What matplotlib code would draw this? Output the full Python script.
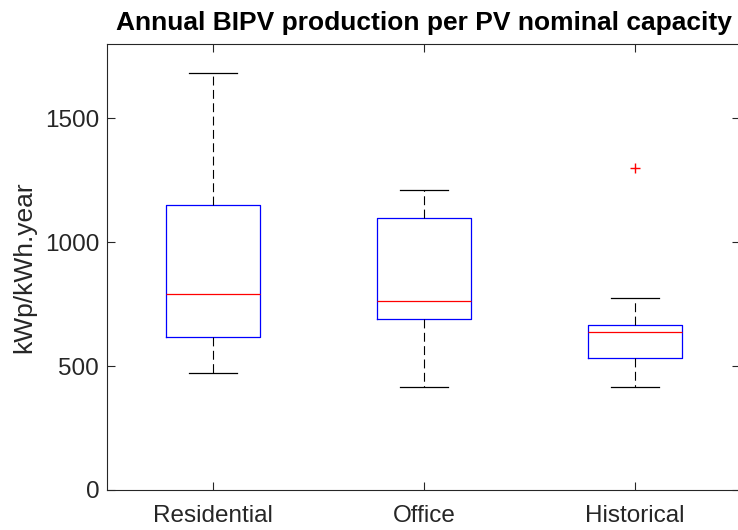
"""Boxplot of annual BIPV yield per nominal PV capacity by building type"""
import matplotlib
matplotlib.use("Agg")
import matplotlib.pyplot as plt

plt.rcParams["font.family"] = ["Liberation Sans", "DejaVu Sans"]

categories = ["Residential", "Office", "Historical"]
whisker_low = [472, 415, 415]
q1 = [616, 689, 532]
median = [791, 761, 638]
q3 = [1150, 1096, 665]
whisker_high = [1684, 1212, 774]
outliers = [[], [], [1301]]

stats = []
for i, name in enumerate(categories):
    stats.append({
        "label": name,
        "whislo": whisker_low[i], "q1": q1[i], "med": median[i],
        "q3": q3[i], "whishi": whisker_high[i], "fliers": outliers[i],
    })

fig = plt.figure(figsize=(7.38, 5.30), dpi=100)
ax = fig.add_axes([107.5 / 738, 40 / 530, 633 / 738, 446 / 530])

ax.bxp(stats, positions=[1, 2, 3], widths=0.45,
       boxprops=dict(color="#0000ff", linewidth=0.9),
       medianprops=dict(color="#ff0000", linewidth=0.9),
       whiskerprops=dict(color="black", linewidth=0.8, linestyle=(0, (8, 4))),
       capprops=dict(color="black", linewidth=0.9),
       capwidths=0.225,
       flierprops=dict(marker="+", markeredgecolor="#ff0000", markersize=7,
                       markeredgewidth=1.0, linestyle="none"))

ax.set_xlim(0.5, 3.5)
ax.set_ylim(0, 1800)
ax.set_yticks([0, 500, 1000, 1500])
ax.set_xticks([1, 2, 3])
ax.set_xticklabels(categories)
ax.tick_params(direction="in", length=6, width=0.8, colors="#262626",
               labelsize=17.5, top=True, right=True)
ax.tick_params(axis="x", pad=11)
ax.tick_params(axis="y", pad=6)
for sp in ax.spines.values():
    sp.set_color("#262626")
    sp.set_linewidth(0.8)

ax.set_ylabel("kWp/kWh.year", fontsize=19, color="#262626", labelpad=6)
ax.set_title("Annual BIPV production per PV nominal capacity",
             fontsize=19, fontweight="bold", pad=10)

fig.savefig("out.png", dpi=100)
